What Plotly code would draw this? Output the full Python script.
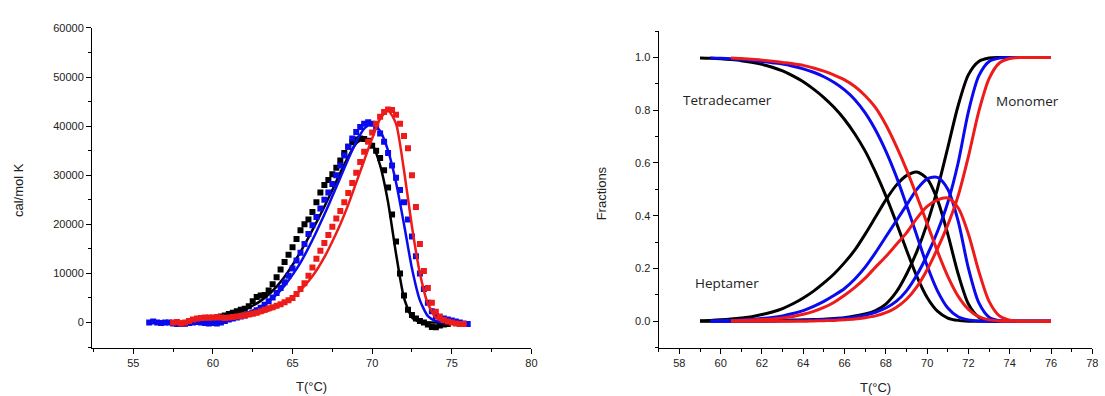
import plotly.graph_objects as go

# ---------------- Left panel: DSC data (squares) and fits (lines) ----------------
T_black_data = [58 + 0.25 * i for i in range(68)]
cp_black_data = [-300, -200, 0, 300, 500, 600, 700, 800, 900, 1000, 1200, 1400, 1700, 2000, 2300, 2600,
                 2800, 3300, 4300, 5200, 5500, 5600, 6500, 7800, 9200, 10800, 12300, 13800, 15300, 17000,
                 18800, 20000, 21000, 22500, 24500, 26500, 28000, 29000, 30200, 31500, 33000, 34500, 35800,
                 36700, 37300, 37500, 37400, 37000, 36000, 35000, 33500, 31000, 27500, 22000, 16500, 10000,
                 5500, 2600, 1500, 800, 300, 0, -400, -900, -1000, -600, -400, -300]

T_blue_data = [56 + 0.25 * i for i in range(81)]
cp_blue_data = [0, 200, 0, -100, 0, 0, -200, -300, -300, -200, -100, 0, 100, 0, -100, -200, -100, -200, 0,
                300, 600, 800, 1000, 1200, 1400, 1700, 2000, 2500, 3000, 3600, 4300, 5100, 6000, 7000, 8200,
                9500, 11000, 12600, 14200, 16000, 18000, 19800, 21500, 23200, 25000, 26500, 28200, 30000,
                32000, 34000, 35800, 37500, 38800, 39800, 40500, 40800, 40500, 39800, 38500, 36800, 34500,
                32000, 29500, 27000, 24500, 21000, 17500, 13500, 10000, 6800, 4000, 2300, 1300, 1000, 800,
                600, 400, 200, 0, -200, -300]

T_red_data = [57.5 + 0.25 * i for i in range(74)]
cp_red_data = [0, 100, -200, 0, 300, 600, 800, 900, 1000, 1000, 1000, 1100, 1000, 900, 1000, 1100, 1200,
               1300, 1400, 1600, 1800, 2000, 2300, 2600, 2900, 3100, 3400, 3700, 4100, 4500, 5000, 5800,
               6800, 8000, 9500, 11200, 13000, 14600, 16200, 17800, 19500, 21200, 22700, 24500, 26400,
               28400, 30500, 32700, 34800, 36800, 38700, 40500, 41900, 42900, 43400, 43300, 42300, 40500,
               38000, 35500, 30000, 23500, 16000, 10500, 7000, 4000, 2200, 1200, 500, 200, 0, -200, -300,
               -300]

T_black_fit = [58, 58.5, 59, 59.5, 60, 60.5, 61, 61.5, 62, 62.5, 63, 63.5, 64, 64.5, 65, 65.5, 66, 66.5,
               67, 67.5, 68, 68.5, 69, 69.5, 70, 70.5, 71, 71.5, 72, 72.5, 73, 73.5, 74, 74.5]
cp_black_fit = [0, 100, 300, 500, 800, 1100, 1500, 2000, 2600, 3400, 4400, 5700, 7300, 9300, 11700, 14400,
                17300, 20400, 23600, 27000, 30500, 33800, 36500, 37500, 36300, 32000, 24500, 14000, 5000,
                1000, 100, 0, 0, 0]

T_blue_fit = [56, 57, 58, 59, 60, 61, 61.5, 62, 62.5, 63, 63.5, 64, 64.5, 65, 65.5, 66, 66.5, 67, 67.5,
              68, 68.5, 69, 69.5, 70, 70.5, 71, 71.5, 72, 72.5, 73, 73.5, 74, 74.5, 75, 76]
cp_blue_fit = [0, 0, 100, 300, 600, 1000, 1300, 1800, 2400, 3200, 4300, 5700, 7500, 9700, 12200, 15200,
               18500, 22000, 25700, 29500, 33300, 36800, 39500, 40500, 39000, 35000, 28500, 20000, 11000,
               4500, 1300, 300, 0, 0, 0]

T_red_fit = [57.5, 58, 59, 60, 61, 62, 62.5, 63, 63.5, 64, 64.5, 65, 65.5, 66, 66.5, 67, 67.5, 68, 68.5,
             69, 69.5, 70, 70.5, 71, 71.5, 72, 72.5, 73, 73.5, 74, 74.5, 75, 75.5]
cp_red_fit = [0, 200, 500, 700, 900, 1200, 1500, 1900, 2400, 3100, 4000, 5100, 6600, 8400, 10600, 13300,
              16500, 20000, 24000, 28500, 33000, 37500, 41500, 43200, 40500, 31000, 19500, 10000, 3800,
              1000, 200, 0, -100]

# ---------------- Right panel: species fractions ----------------
T_black_frac = [59 + 0.5 * i for i in range(35)]
tet_black = [0.998, 0.997, 0.995, 0.992, 0.988, 0.982, 0.974, 0.963, 0.949, 0.93, 0.908, 0.88, 0.848,
             0.81, 0.765, 0.71, 0.645, 0.565, 0.475, 0.375, 0.27, 0.17, 0.09, 0.038, 0.012, 0.003, 0, 0,
             0, 0, 0, 0, 0, 0, 0]
hep_black = [0.002, 0.003, 0.005, 0.008, 0.012, 0.017, 0.025, 0.035, 0.048, 0.066, 0.088, 0.114, 0.145,
             0.18, 0.222, 0.27, 0.33, 0.395, 0.46, 0.515, 0.552, 0.566, 0.54, 0.46, 0.33, 0.18, 0.065,
             0.015, 0.002, 0, 0, 0, 0, 0, 0]
mono_black = [0, 0, 0, 0, 0, 0.001, 0.001, 0.002, 0.003, 0.004, 0.005, 0.006, 0.007, 0.01, 0.013, 0.02,
              0.027, 0.04, 0.065, 0.11, 0.178, 0.264, 0.37, 0.502, 0.658, 0.817, 0.935, 0.985, 0.998, 1,
              1, 1, 1, 1, 1]

T_blue_frac = [59.5 + 0.5 * i for i in range(34)]
tet_blue = [0.998, 0.997, 0.995, 0.992, 0.989, 0.985, 0.98, 0.975, 0.967, 0.957, 0.944, 0.927, 0.905,
            0.877, 0.84, 0.79, 0.725, 0.645, 0.55, 0.44, 0.325, 0.21, 0.115, 0.05, 0.017, 0.005, 0.001, 0,
            0, 0, 0, 0, 0, 0]
hep_blue = [0.001, 0.002, 0.003, 0.005, 0.007, 0.01, 0.014, 0.02, 0.029, 0.04, 0.056, 0.075, 0.098, 0.124,
            0.16, 0.205, 0.26, 0.32, 0.38, 0.44, 0.5, 0.54, 0.545, 0.5, 0.38, 0.2, 0.07, 0.015, 0.002, 0,
            0, 0, 0, 0]
mono_blue = [0, 0, 0, 0, 0, 0, 0, 0.001, 0.002, 0.003, 0.004, 0.006, 0.008, 0.011, 0.016, 0.023, 0.034,
             0.05, 0.075, 0.115, 0.175, 0.25, 0.34, 0.45, 0.6, 0.795, 0.93, 0.985, 0.998, 1, 1, 1, 1, 1]

T_red_frac = [60.5 + 0.5 * i for i in range(32)]
tet_red = [0.998, 0.996, 0.993, 0.99, 0.986, 0.981, 0.976, 0.97, 0.96, 0.948, 0.933, 0.915, 0.89, 0.855,
           0.81, 0.745, 0.665, 0.575, 0.475, 0.37, 0.265, 0.17, 0.095, 0.045, 0.017, 0.005, 0.001, 0, 0,
           0, 0, 0]
hep_red = [0.002, 0.003, 0.004, 0.006, 0.008, 0.012, 0.018, 0.026, 0.037, 0.052, 0.072, 0.098, 0.128,
           0.163, 0.205, 0.245, 0.29, 0.335, 0.39, 0.435, 0.46, 0.467, 0.43, 0.33, 0.19, 0.075, 0.02,
           0.004, 0, 0, 0, 0]
mono_red = [0, 0, 0, 0, 0, 0, 0, 0, 0.001, 0.002, 0.003, 0.005, 0.008, 0.013, 0.02, 0.032, 0.052, 0.083,
            0.13, 0.195, 0.275, 0.365, 0.475, 0.625, 0.795, 0.92, 0.979, 0.996, 1, 1, 1, 1]

labels = ["Tetradecamer", "Heptamer", "Monomer"]
label_T = [60.35, 60.3, 74.85]
label_f = [0.837, 0.146, 0.836]

BLACK = "#000000"
BLUE = "#0a0aee"
RED = "#ee1b1b"

fig = go.Figure()

# Left panel
for T_d, y_d, T_f, y_f, c in [
    (T_black_data, cp_black_data, T_black_fit, cp_black_fit, BLACK),
    (T_blue_data, cp_blue_data, T_blue_fit, cp_blue_fit, BLUE),
    (T_red_data, cp_red_data, T_red_fit, cp_red_fit, RED),
]:
    fig.add_trace(go.Scatter(x=T_d, y=y_d, mode="markers", xaxis="x", yaxis="y",
                             marker=dict(symbol="square", size=6, color=c, line=dict(width=0)),
                             showlegend=False, hoverinfo="skip"))
    fig.add_trace(go.Scatter(x=T_f, y=y_f, mode="lines", xaxis="x", yaxis="y",
                             line=dict(color=c, width=2.5, shape="spline", smoothing=0.6),
                             showlegend=False, hoverinfo="skip"))

# Right panel
for T_r, tet, hep, mono, c in [
    (T_black_frac, tet_black, hep_black, mono_black, BLACK),
    (T_blue_frac, tet_blue, hep_blue, mono_blue, BLUE),
    (T_red_frac, tet_red, hep_red, mono_red, RED),
]:
    for ys in (tet, hep, mono):
        fig.add_trace(go.Scatter(x=T_r, y=ys, mode="lines", xaxis="x2", yaxis="y2",
                                 line=dict(color=c, width=3, shape="spline", smoothing=0.8),
                                 showlegend=False, hoverinfo="skip"))

tickfont = dict(family="Liberation Sans, Arial, sans-serif", size=11, color="#222222")
axcommon = dict(showline=True, linecolor="#000000", linewidth=1.3, ticks="outside", ticklen=5,
                tickwidth=1.2, tickcolor="#000000", showgrid=False, zeroline=False, mirror=False,
                tickfont=tickfont)

fig.update_layout(
    width=1105, height=396,
    margin=dict(l=0, r=0, t=0, b=0),
    paper_bgcolor="white", plot_bgcolor="white",
    xaxis=dict(domain=[92.7 / 1105, 534.3 / 1105], range=[52.42, 80], tick0=55, dtick=5,
               minor=dict(dtick=2.5, ticks="outside", ticklen=3, tickcolor="#000000"),
               anchor="y", **axcommon),
    yaxis=dict(domain=[(396 - 347.0) / 396, (396 - 22.3) / 396], range=[-5150, 60000], tick0=0,
               dtick=10000, tickformat="d",
               minor=dict(dtick=5000, ticks="outside", ticklen=3, tickcolor="#000000"),
               anchor="x", **axcommon),
    xaxis2=dict(domain=[662.3 / 1105, 1098.3 / 1105], range=[57, 78], tick0=58, dtick=2,
                minor=dict(dtick=1, ticks="outside", ticklen=3, tickcolor="#000000"),
                anchor="y2", **axcommon),
    yaxis2=dict(domain=[(396 - 346.8) / 396, (396 - 25.5) / 396], range=[-0.1, 1.1], tick0=0,
                dtick=0.2, tickformat=".1f",
                minor=dict(dtick=0.1, ticks="outside", ticklen=3, tickcolor="#000000"),
                anchor="x2", **axcommon),
)

title_font = dict(family="Liberation Sans, Arial, sans-serif", size=13, color="#222222")
ann = [
    dict(text="cal/mol K", x=18 / 1105, y=(396 - 187) / 396, textangle=-90),
    dict(text="T(°C)", x=313.5 / 1105, y=(396 - 386) / 396, textangle=0),
    dict(text="Fractions", x=604.5 / 1105, y=(396 - 190) / 396, textangle=-90),
    dict(text="T(°C)", x=880 / 1105, y=(396 - 387) / 396, textangle=0),
]
for a in ann:
    fig.add_annotation(xref="paper", yref="paper", xanchor="center", yanchor="middle",
                       showarrow=False, font=title_font, **a)

for txt, tx, fy in zip(labels, label_T, label_f):
    fig.add_annotation(xref="x2", yref="y2", x=tx, y=fy, text=txt, showarrow=False,
                       xanchor="center", yanchor="middle",
                       font=dict(family="Open Sans, Lato, sans-serif", size=13.5, color="#222222"))

fig.write_html("out.html")
